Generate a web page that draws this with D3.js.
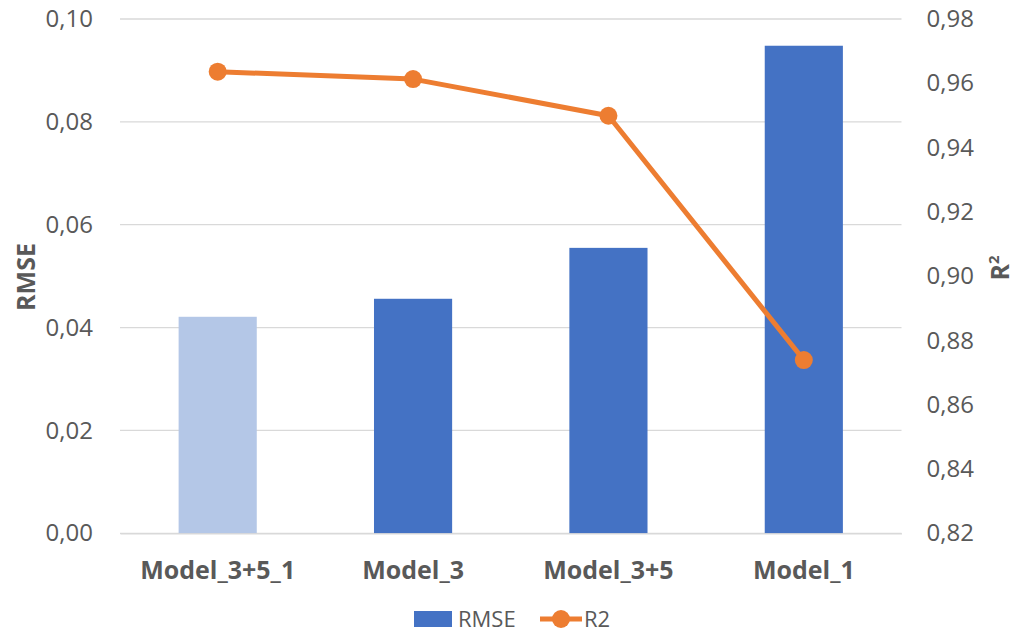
<!DOCTYPE html>
<html>
<head>
<meta charset="utf-8">
<script src="https://cdn.jsdelivr.net/npm/d3@7"></script>
<style>
  html, body { margin: 0; padding: 0; background: #fff; }
  svg { display: block; }
  svg text { font-family: "Open Sans", "Noto Sans", "DejaVu Sans", sans-serif; }
</style>
</head>
<body>
<svg id="chart" width="1015" height="634"></svg>
<script>
// Model comparison: RMSE (bars, left axis) and R² (line, right axis)
const categories = ["Model_3+5_1", "Model_3", "Model_3+5", "Model_1"];
const rmseValues = [0.0421, 0.0456, 0.0555, 0.0948];
const r2Values = [0.9636, 0.9613, 0.9499, 0.8739];
const leftTicks = [0, 0.02, 0.04, 0.06, 0.08, 0.10];
const rightTicks = [0.82, 0.84, 0.86, 0.88, 0.90, 0.92, 0.94, 0.96, 0.98];
const barColors = ["#b4c7e7", "#4472c4", "#4472c4", "#4472c4"];

const svg = d3.select("#chart");
const plot = { left: 120, right: 901.5, top: 19, bottom: 533.3 };
const textColor = "#595959";
const tickSize = 24;
const fmt = v => d3.format(".2f")(v).replace(".", ",");

const x = d3.scaleBand().domain(categories)
  .range([plot.left, plot.right]).paddingInner(0.6).paddingOuter(0.3);
const yL = d3.scaleLinear().domain([0, 0.10]).range([plot.bottom, plot.top]);
const yR = d3.scaleLinear().domain([0.82, 0.98]).range([plot.bottom, plot.top]);

// Horizontal gridlines
svg.append("g").selectAll("line").data(leftTicks).join("line")
  .attr("x1", plot.left).attr("x2", plot.right)
  .attr("y1", d => yL(d)).attr("y2", d => yL(d))
  .attr("stroke", "#d9d9d9").attr("stroke-width", 1.3);

// Left axis
const axL = svg.append("g").attr("transform", `translate(${plot.left},0)`)
  .call(d3.axisLeft(yL).tickValues(leftTicks).tickFormat(fmt).tickSize(0).tickPadding(27));
axL.select(".domain").remove();
axL.selectAll("text").attr("fill", textColor).attr("font-size", tickSize);

// Right axis
const axR = svg.append("g").attr("transform", `translate(${plot.right},0)`)
  .call(d3.axisRight(yR).tickValues(rightTicks).tickFormat(fmt).tickSize(0).tickPadding(25));
axR.select(".domain").remove();
axR.selectAll("text").attr("fill", textColor).attr("font-size", tickSize);

// Bars
svg.append("g").selectAll("rect").data(categories).join("rect")
  .attr("x", d => x(d)).attr("width", x.bandwidth())
  .attr("y", (d, i) => yL(rmseValues[i]))
  .attr("height", (d, i) => yL(0) - yL(rmseValues[i]))
  .attr("fill", (d, i) => barColors[i]);

// Bottom axis
const axB = svg.append("g").attr("transform", `translate(0,${plot.bottom})`)
  .call(d3.axisBottom(x).tickSize(0).tickPadding(28));
axB.select(".domain").attr("stroke", "#d9d9d9").attr("stroke-width", 1.3);
axB.selectAll("text").attr("fill", textColor).attr("font-size", 25).attr("font-weight", "bold");

// R² line with markers
const line = d3.line().x((d, i) => x(categories[i]) + x.bandwidth() / 2).y(d => yR(d));
svg.append("path").datum(r2Values).attr("d", line)
  .attr("fill", "none").attr("stroke", "#ed7d31").attr("stroke-width", 5)
  .attr("stroke-linejoin", "round");
svg.append("g").selectAll("circle").data(r2Values).join("circle")
  .attr("cx", (d, i) => x(categories[i]) + x.bandwidth() / 2)
  .attr("cy", d => yR(d)).attr("r", 9).attr("fill", "#ed7d31");

// Axis titles
svg.append("text").attr("transform", "translate(35,277) rotate(-90)")
  .attr("text-anchor", "middle").attr("fill", textColor)
  .attr("font-size", 25).attr("font-weight", "bold").text("RMSE");
const r2Title = svg.append("text").attr("transform", "translate(1009,268) rotate(-90)")
  .attr("text-anchor", "middle").attr("fill", textColor)
  .attr("font-size", 25).attr("font-weight", "bold");
r2Title.append("tspan").text("R");
r2Title.append("tspan").attr("font-size", 15).attr("dy", -10).text("2");

// Legend
const lg = svg.append("g");
lg.append("rect").attr("x", 414).attr("y", 611).attr("width", 38).attr("height", 16).attr("fill", "#4472c4");
lg.append("text").attr("x", 458).attr("y", 627).attr("fill", textColor).attr("font-size", 22).text("RMSE");
lg.append("line").attr("x1", 540).attr("x2", 582).attr("y1", 619).attr("y2", 619)
  .attr("stroke", "#ed7d31").attr("stroke-width", 5);
lg.append("circle").attr("cx", 561).attr("cy", 619).attr("r", 9).attr("fill", "#ed7d31");
lg.append("text").attr("x", 584).attr("y", 627).attr("fill", textColor).attr("font-size", 22).text("R2");
</script>
</body>
</html>
